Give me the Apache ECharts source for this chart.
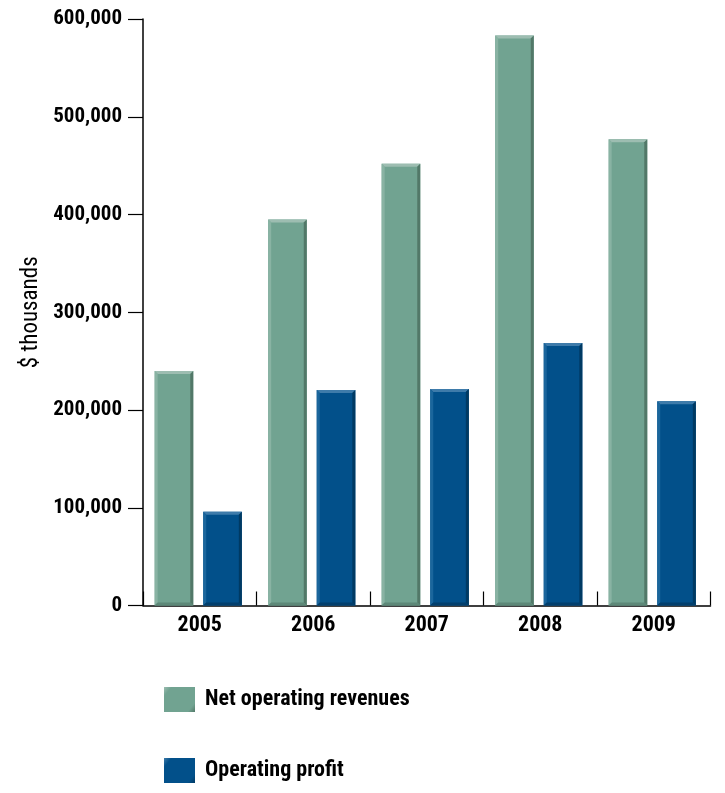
<!DOCTYPE html>
<html>
<head>
<meta charset="utf-8">
<style>
  html, body { margin: 0; padding: 0; background: #ffffff; }
  #chart { width: 725px; height: 793px; }
</style>
<script src="https://cdn.jsdelivr.net/npm/echarts@6/dist/echarts.min.js"></script>
</head>
<body>
<div id="chart"></div>
<script>
// Yearly figures, $ thousands
const years = ['2005', '2006', '2007', '2008', '2009'];
const netOperatingRevenues = [240000, 395000, 452000, 583000, 477000];
const operatingProfit = [96000, 220500, 221500, 268500, 209000];
const yTicks = [0, 100000, 200000, 300000, 400000, 500000, 600000];

const FONT = '"Roboto Condensed", "DejaVu Sans Condensed", sans-serif';

// Bevelled bar shading per series: face, top, left, right, bottom
const palettes = [
  { face: '#71a391', top: '#9dbdb1', left: '#89b3a3', right: '#527868', bottom: '#5d8878' },
  { face: '#02508a', top: '#3e7baa', left: '#1b669c', right: '#003a63', bottom: '#023f6d' }
];

function bevelBar(seriesIndex) {
  return function (params, api) {
    const idx = api.value(0);
    const val = api.value(1);
    const top = api.coord([idx, val]);
    const base = api.coord([idx, 0]);
    const W = api.size([1, 0])[0];
    const bw = W * 0.34;
    const gap = W * 0.088;
    const groupLeft = top[0] - (2 * bw + gap) / 2 - 1.5;
    const x = groupLeft + seriesIndex * (bw + gap);
    const y = top[1];
    const h = base[1] - top[1];
    const b = 3;
    const p = palettes[seriesIndex];
    return {
      type: 'group',
      children: [
        { type: 'rect', shape: { x: x, y: y, width: bw, height: h }, style: { fill: p.face } },
        { type: 'polygon', shape: { points: [[x, y], [x + bw, y], [x + bw - b, y + b], [x + b, y + b]] }, style: { fill: p.top } },
        { type: 'polygon', shape: { points: [[x, y], [x + b, y + b], [x + b, y + h - b], [x, y + h]] }, style: { fill: p.left } },
        { type: 'polygon', shape: { points: [[x + bw, y], [x + bw, y + h], [x + bw - b, y + h - b], [x + bw - b, y + b]] }, style: { fill: p.right } },
        { type: 'polygon', shape: { points: [[x, y + h], [x + b, y + h - b], [x + bw - b, y + h - b], [x + bw, y + h]] }, style: { fill: p.bottom } }
      ]
    };
  };
}

function legendColor(p) {
  return new echarts.graphic.LinearGradient(0, 0, 1, 1, [
    { offset: 0, color: p.top },
    { offset: 0.15, color: p.face },
    { offset: 0.85, color: p.face },
    { offset: 1, color: p.right }
  ]);
}

function legendBlock(name, palette, top) {
  return {
    left: 164,
    top: top,
    padding: 0,
    itemWidth: 31,
    itemHeight: 25,
    icon: 'rect',
    textStyle: { fontFamily: FONT, fontWeight: 'bold', fontSize: 22, color: '#000', padding: [9, 0, 0, 5] },
    data: [{ name: name, itemStyle: { color: legendColor(palette) } }]
  };
}

const chart = echarts.init(document.getElementById('chart'), null, { renderer: 'canvas' });

chart.setOption({
  animation: false,
  backgroundColor: '#ffffff',
  grid: { left: 143, right: 14.5, top: 19, bottom: 187.5, containLabel: false, outerBoundsMode: 'none' },
  legend: [
    legendBlock('Net operating revenues', palettes[0], 687),
    legendBlock('Operating profit', palettes[1], 758)
  ],
  xAxis: {
    type: 'category',
    data: years,
    axisLine: { show: true, lineStyle: { color: '#000000', width: 1.5 } },
    axisTick: { show: true, inside: true, length: 14, alignWithLabel: false, lineStyle: { color: '#000000', width: 1.2 } },
    axisLabel: { margin: 9, fontFamily: FONT, fontWeight: 'bold', fontSize: 22, color: '#000000' },
    splitLine: { show: false }
  },
  yAxis: {
    type: 'value',
    min: yTicks[0],
    max: yTicks[yTicks.length - 1],
    interval: yTicks[1] - yTicks[0],
    name: '$ thousands',
    nameLocation: 'middle',
    nameGap: 95,
    nameRotate: 90,
    nameTextStyle: { fontFamily: FONT, fontWeight: 'normal', fontSize: 23, color: '#000000' },
    axisLine: { show: true, lineStyle: { color: '#000000', width: 1.5 } },
    axisTick: { show: true, inside: false, length: 15, lineStyle: { color: '#000000', width: 1.2 } },
    axisLabel: {
      margin: 21,
      fontFamily: FONT,
      fontWeight: 'bold',
      fontSize: 21,
      color: '#000000',
      formatter: function (v) { return v.toLocaleString('en-US'); }
    },
    splitLine: { show: false }
  },
  series: [
    {
      name: 'Net operating revenues',
      type: 'custom',
      renderItem: bevelBar(0),
      itemStyle: { color: palettes[0].face },
      encode: { x: 0, y: 1 },
      data: years.map(function (y, i) { return [i, netOperatingRevenues[i]]; }),
      z: 1
    },
    {
      name: 'Operating profit',
      type: 'custom',
      renderItem: bevelBar(1),
      itemStyle: { color: palettes[1].face },
      encode: { x: 0, y: 1 },
      data: years.map(function (y, i) { return [i, operatingProfit[i]]; }),
      z: 1
    }
  ]
});
</script>
</body>
</html>
